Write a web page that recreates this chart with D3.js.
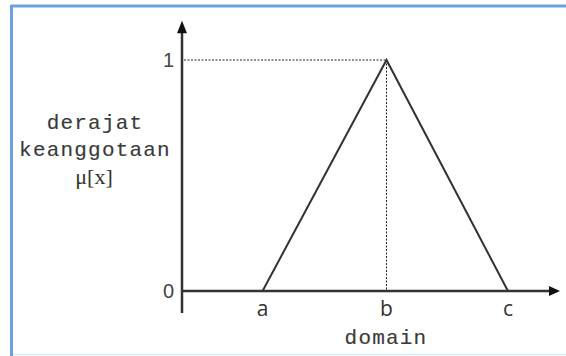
<!DOCTYPE html>
<html><head><meta charset="utf-8">
<script src="https://cdn.jsdelivr.net/npm/d3@7"></script>
<style>body{margin:0;background:#fff}svg{display:block}</style>
</head><body>
<script>
// Data
const pointNames = ["a", "b", "c"];
const pointValues = [0.65, 1.65, 2.63];   // positions on the domain axis
const membership = [0, 1, 0];            // μ at a, b, c
const yTickLabels = ["0", "1"];
const yTickValues = [0, 1];
const yTitleLines = ["derajat", "keanggotaan"];
const yTitleSymbol = "μ[x]";
const xTitle = "domain";

const W = 566, H = 356;
const svg = d3.select("body").append("svg").attr("width", W).attr("height", H);

// frame
svg.append("line").attr("x1", 11).attr("x2", W).attr("y1", 6).attr("y2", 6)
  .attr("stroke", "#6f9fdc").attr("stroke-width", 3);
svg.append("line").attr("x1", 11.5).attr("x2", 11.5).attr("y1", 5).attr("y2", H)
  .attr("stroke", "#6f9fdc").attr("stroke-width", 3);
svg.append("line").attr("x1", 13).attr("x2", W).attr("y1", 354.5).attr("y2", 354.5)
  .attr("stroke", "#dde8f5").attr("stroke-width", 1.5);

const x = d3.scaleLinear().domain([0, 3.05]).range([182, 560]);
const y = d3.scaleLinear().domain([0, 1]).range([291, 60]);

const ink = "#333";
const x0 = x(0), y0 = y(0);

// y axis line
svg.append("line").attr("x1", x0).attr("x2", x0).attr("y1", y(-0.095)).attr("y2", y(1.12))
  .attr("stroke", ink).attr("stroke-width", 2.5);
svg.append("path").attr("d", `M${x0},${y(1.17)}L${x0 - 5},${y(1.12) + 1}L${x0 + 5},${y(1.12) + 1}Z`)
  .attr("fill", "#111");
// x axis line
svg.append("line").attr("x1", x0).attr("x2", x(3.05) - 10).attr("y1", y0).attr("y2", y0)
  .attr("stroke", ink).attr("stroke-width", 2.5);
svg.append("path").attr("d", `M${x(3.05)},${y0}L${x(3.05) - 11},${y0 - 5}L${x(3.05) - 11},${y0 + 5}Z`)
  .attr("fill", "#111");

// dotted guides to peak
const peakIdx = membership.indexOf(1);
svg.append("line").attr("x1", x0 + 2).attr("x2", x(pointValues[peakIdx])).attr("y1", y(1)).attr("y2", y(1))
  .attr("stroke", "#222").attr("stroke-width", 1).attr("stroke-dasharray", "2,1.5");
svg.append("line").attr("x1", x(pointValues[peakIdx])).attr("x2", x(pointValues[peakIdx]))
  .attr("y1", y(1)).attr("y2", y0)
  .attr("stroke", "#222").attr("stroke-width", 1).attr("stroke-dasharray", "2,1.5");

// triangle
const line = d3.line().x((d, i) => x(pointValues[i])).y(d => y(d));
svg.append("path").datum(membership).attr("d", line)
  .attr("fill", "none").attr("stroke", ink).attr("stroke-width", 2).attr("stroke-linejoin", "miter");

// y tick labels
svg.selectAll(".yt").data(yTickValues).enter().append("text")
  .attr("x", x0 - 8).attr("y", d => y(d)).attr("dy", "0.36em")
  .attr("text-anchor", "end").attr("font-family", "Liberation Sans, sans-serif")
  .attr("font-size", 20).attr("fill", "#444").text((d, i) => yTickLabels[i]);

// x point labels
svg.selectAll(".xt").data(pointValues).enter().append("text")
  .attr("x", d => x(d)).attr("y", 316).attr("text-anchor", "middle")
  .attr("font-family", "Open Sans, sans-serif").attr("font-size", 21).attr("fill", "#333")
  .text((d, i) => pointNames[i]);

const monoStyle = s => s.attr("font-family", "Liberation Mono, monospace").attr("font-size", 21)
  .attr("letter-spacing", 1.2).attr("fill", "#3a3a3a").attr("stroke", "#3a3a3a").attr("stroke-width", 0.15);

// x title
svg.append("text").attr("x", 386).attr("y", 344).attr("text-anchor", "middle")
  .call(monoStyle).text(xTitle);

// y title
yTitleLines.forEach((t, i) => {
  svg.append("text").attr("x", 95).attr("y", 129 + i * 27).attr("text-anchor", "middle")
    .call(monoStyle).text(t);
});
svg.append("text").attr("x", 94).attr("y", 184).attr("text-anchor", "middle")
  .attr("font-family", "Liberation Serif, serif").attr("font-size", 22)
  .attr("fill", "#333").text(yTitleSymbol);
</script>
</body></html>
